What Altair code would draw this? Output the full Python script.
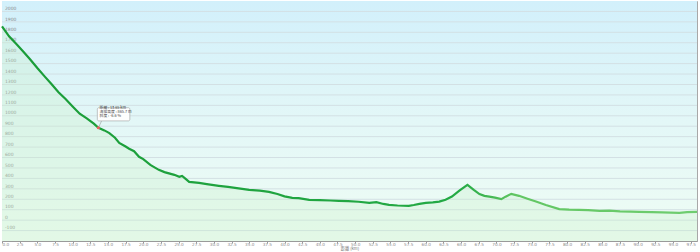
import altair as alt
import pandas as pd

km = [0, 1, 2, 3, 4, 5, 6, 7, 8, 9, 10, 11, 12, 13, 13.65, 14.5, 15.2, 16, 16.6,
      17.5, 18, 18.7, 19.4, 20, 21, 22.2, 23, 24.4, 25.1, 25.5, 26, 26.5, 27.9,
      29, 30.7, 32, 33.5, 35, 36.5, 37.8, 39, 40, 41.1, 42, 43.5, 45, 46.5, 47.7,
      49, 50.5, 52, 53, 54, 54.8, 56, 57.6, 58.3, 59.1, 60, 61, 61.9, 62.8, 63.7,
      64.8, 65.9, 66.8, 67.6, 68.3, 69, 69.8, 70.7, 71.3, 72.1, 73.2, 74.4, 75.6,
      77, 78.9, 80.3, 81.7, 83, 84.6, 86, 87.5, 89, 90.2, 92, 93.5, 95.9, 97, 98.4]
elev = [1856, 1762, 1690, 1615, 1540, 1458, 1380, 1305, 1226, 1160, 1090, 1020,
        975, 925, 885, 860, 834, 790, 740, 705, 684, 660, 607, 585, 530, 482, 460,
        434, 415, 424, 395, 367, 357, 345, 329, 318, 305, 290, 282, 271, 250, 228,
        214, 210, 195, 192, 188, 185, 182, 176, 166, 172, 155, 147, 140, 137, 145,
        156, 165, 170, 178, 195, 226, 285, 338, 290, 250, 233, 226, 215, 201, 225,
        252, 233, 205, 178, 145, 105, 100, 99, 95, 89, 92, 84, 82, 80, 77, 75, 70,
        76, 80]

y_ticks = list(range(-100, 2001, 100))
y_labels = [str(v) for v in y_ticks]
x_ticks = [i * 2.5 for i in range(40)]

tip_km = [13.65]
tip_elev = [885]
tip_lines = ["距離 : 13.65 km", "海拔高度 : 865.7 m", "斜度 : -6.6 %"]
tip_box_x = [13.5, 18.1]
tip_box_y = [1077, 951]

df = pd.DataFrame({"km": km, "elev": elev})

xs = alt.Scale(domain=[0, 98.4], nice=False, zero=False)
ys = alt.Scale(domain=[-200, 2100], nice=False, zero=False)

xaxis = alt.Axis(
    values=x_ticks, format=".1f", labelFontSize=4.2, labelColor="#8a8a8a",
    labelPadding=-1, tickSize=2, tickColor="#9a9a9a", domainColor="#9a9a9a",
    labelOverlap=False, grid=False, title="距離 (km)", titleFontSize=4.2,
    titleFontWeight="normal", titleColor="#777777", titlePadding=0.5,
    labelFont="DejaVu Sans", titleFont="Noto Sans CJK JP")

bg = alt.Chart(pd.DataFrame({"a": [0]})).mark_rect(
    fill=alt.Gradient(gradient="linear", x1=0, x2=0, y1=0, y2=1,
                      stops=[alt.GradientStop(offset=0, color="#d2f0fb"),
                             alt.GradientStop(offset=0.5, color="#e3f7f7"),
                             alt.GradientStop(offset=1, color="#effdf4")])
).encode(x=alt.value(0), x2=alt.value("width"), y=alt.value(0), y2=alt.value("height"))

base = alt.Chart(df)

gdf = pd.DataFrame({"v": y_ticks, "lab": y_labels})
grid = alt.Chart(gdf).mark_rule(color="#d3e0e4", strokeWidth=1).encode(
    y=alt.Y("v:Q", scale=ys, axis=None), x=alt.value(0), x2=alt.value("width"))

ylab = alt.Chart(gdf).mark_text(
    align="left", baseline="bottom", fontSize=4.5, color="#8a8a8a",
    font="DejaVu Sans", dy=-0.3
).encode(y=alt.Y("v:Q", scale=ys, axis=None), x=alt.value(3), text="lab:N")

area = base.mark_area(color="#c6efc6", opacity=0.3).encode(
    x=alt.X("km:Q", scale=xs, axis=xaxis), y=alt.Y("elev:Q", scale=ys, axis=None),
    y2=alt.datum(-200))

line = base.mark_line(
    strokeWidth=2.2,
    stroke=alt.Gradient(gradient="linear", x1=0, x2=1, y1=0, y2=0,
                        stops=[alt.GradientStop(offset=0, color="#1a9c38"),
                               alt.GradientStop(offset=0.66, color="#24aa45"),
                               alt.GradientStop(offset=0.74, color="#62c663"),
                               alt.GradientStop(offset=1, color="#6fcd6f")])
).encode(
    x=alt.X("km:Q", scale=xs, axis=xaxis),
    y=alt.Y("elev:Q", scale=ys, axis=None))

tipdf = pd.DataFrame({"km": tip_km, "elev": tip_elev})
box = alt.Chart(pd.DataFrame({"x1": [tip_box_x[0]], "x2": [tip_box_x[1]],
                              "y1": [tip_box_y[0]], "y2": [tip_box_y[1]]})).mark_rect(
    fill="white", stroke="#999999", strokeWidth=0.6, cornerRadius=1.5, opacity=0.95
).encode(x=alt.X("x1:Q", scale=xs, axis=xaxis), x2="x2:Q",
         y=alt.Y("y1:Q", scale=ys, axis=None), y2="y2:Q")

pointer = alt.Chart(pd.DataFrame({"x1": tip_km, "y1": tip_elev,
                                  "x2": [tip_box_x[0] + 0.6], "y2": [tip_box_y[1]]})).mark_rule(
    color="#999999", strokeWidth=0.6
).encode(x=alt.X("x1:Q", scale=xs, axis=xaxis), x2="x2:Q",
         y=alt.Y("y1:Q", scale=ys, axis=None), y2="y2:Q")

dot = alt.Chart(tipdf).mark_circle(color="#f06060", size=10, opacity=1).encode(
    x=alt.X("km:Q", scale=xs, axis=xaxis), y=alt.Y("elev:Q", scale=ys, axis=None))

texts = []
for i, t in enumerate(tip_lines):
    texts.append(alt.Chart(tipdf).mark_text(
        text=t, align="left", baseline="middle", fontSize=3.8, color="#444444",
        font="Noto Sans CJK JP", dx=1.2, dy=-20 + i * 4
    ).encode(x=alt.X("km:Q", scale=xs, axis=xaxis), y=alt.Y("elev:Q", scale=ys, axis=None)))

chart = alt.layer(bg, grid, ylab, area, line, pointer, box, dot, *texts).properties(
    width=695, height=240,
    padding={"left": 2, "top": 1, "right": 3, "bottom": 11},
    autosize=alt.AutoSizeParams(type="none"),
    background="white",
).configure_view(stroke="#a8a8a8", strokeWidth=1)

chart.save("out.html", embed_options={"renderer": "svg", "actions": False})
